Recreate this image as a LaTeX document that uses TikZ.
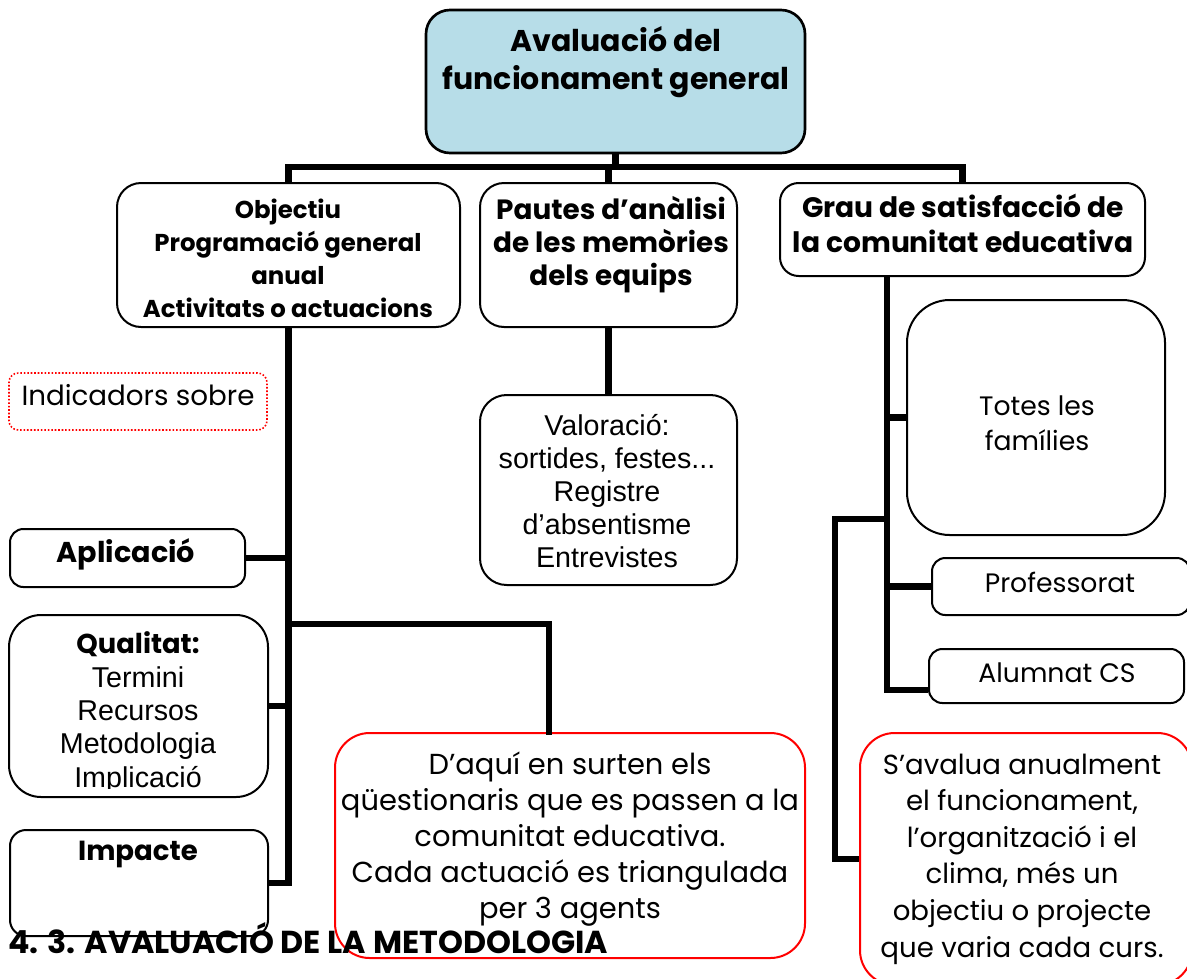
\documentclass[tikz,border=0pt]{standalone}
\usepackage{fontspec}
\setmainfont{Poppins}
\newfontfamily\arialfont{Liberation Sans}
\usetikzlibrary{fit}
\definecolor{lightblue}{HTML}{B7DDE8}
\newcommand{\fs}[2]{\fontsize{#1}{#2}\selectfont}

\begin{document}
\begin{tikzpicture}[x=0.75pt, y=-0.75pt,
        box/.style={draw, line width=1.5pt, inner sep=0pt, rounded corners=10pt},
        redbox/.style={draw=red, line width=1.5pt, inner sep=0pt, rounded corners=26pt},
        conn/.style={line width=4.8pt},
        txt/.style={anchor=base, align=center, inner sep=0pt}]
    \useasboundingbox (0,0) rectangle (1187,978);
    % boxes
    \node [box, fill=lightblue, line width=2pt, rounded corners=18pt, fit={(426,10) (805,153)}] (top) {};
    \node [box, rounded corners=18pt, fit={(117,183) (460,327)}] (obj) {};
    \node [box, rounded corners=18pt, fit={(480,183) (737,327)}] (paut) {};
    \node [box, rounded corners=14pt, fit={(780,183) (1145,276)}] (grau) {};
    \node [box, draw=red, line width=1.2pt, dash pattern=on 1.2pt off 1.4pt, rounded corners=7pt, fit={(9,373) (267,430)}] (ind) {};
    \node [box, fit={(10,529) (245,587)}] (apl) {};
    \node [box, rounded corners=24pt, fit={(9,615) (268,797)}] (qual) {};
    \node [box, rounded corners=12pt, fit={(10,830) (268,936)}] (imp) {};
    \node [box, rounded corners=20pt, fit={(480,395) (737,585)}] (val) {};
    \node [box, rounded corners=32pt, fit={(907,300) (1165,535)}] (tot) {};
    \node [box, fit={(932,558) (1190,615)}] (prof) {};
    \node [box, fit={(929,649) (1184,703)}] (alu) {};
    \node [redbox, fit={(335,733) (805,958)}] (daq) {};
    \node [redbox, fit={(860,733) (1192,985)}] (sav) {};
    % connectors
    \coordinate (bar) at (0,167);
    \draw [conn] (obj.north) -- (obj.north |- bar) -- (grau.north |- bar) -- (grau.north);
    \draw [conn] (top.south) -- (top.south |- bar);
    \draw [conn] (paut.north) -- (paut.north |- bar);
    \draw [conn] (obj.south) |- (imp.east);
    \draw [conn] (apl.east) -- (apl.east -| obj.south);
    \draw [conn] (qual.east) -- (qual.east -| obj.south);
    \coordinate (dq1) at (288,624);
    \coordinate (dq2) at (549,735);
    \draw [conn] (dq1) -| (dq2);
    \draw [conn] (paut.south) -- (val.north);
    \coordinate (gsp) at (887,276);
    \coordinate (alj) at (887,690);
    \draw [conn] (gsp) -- (alj) -- (alj -| alu.west);
    \draw [conn] (tot.west) -- (tot.west -| gsp);
    \draw [conn] (prof.west) -- (prof.west -| gsp);
    \coordinate (sj) at (887,519);
    \coordinate (sk) at (835,519);
    \draw [conn] (sj) -- (sk) |- (sav.west);
    % texts (placed at the baseline of their last line)
    \node [txt, font=\bfseries\fs{22.5}{28.5}] (t-top) at (616,89) {Avaluació del\\funcionament general};
    \node [txt, font=\bfseries\fs{18.3}{24.75}] (t-obj) at (288,317) {Objectiu\\Programació general\\anual\\Activitats o actuacions};
    \node [txt, font=\bfseries\fs{20.9}{24.75}] (t-paut) at (611,285) {Pautes d’anàlisi\\de les memòries\\dels equips};
    \node [txt, font=\bfseries\fs{21.1}{26}] (t-grau) at (963,252) {Grau de satisfacció de\\la comunitat educativa};
    \node [txt, font=\fs{20.8}{24}] (t-ind) at (138,405) {Indicadors sobre};
    \node [txt, font=\bfseries\fs{21.5}{24}] (t-apl) at (126,562) {Aplicació};
    \begin{scope}
        \clip (9,615) rectangle (268,788);
        \node [txt, font=\arialfont\fs{21.5}{25}] (t-qual) at (138,787) {{\rmfamily\bfseries\fs{20.5}{25}Qualitat:}\\Termini\\Recursos\\Metodologia\\Implicació};
    \end{scope}
    \node [txt, font=\bfseries\fs{20.7}{24}] (t-imp) at (138,860) {Impacte};
    \node [txt, font=\arialfont\fs{21.5}{24.75}] (t-val) at (607,567) {Valoració:\\sortides, festes...\\Registre\\d’absentisme\\Entrevistes};
    \node [txt, font=\fs{20}{26.25}] (t-tot) at (1037,450) {Totes les\\famílies};
    \node [txt, font=\fs{20}{24}] (t-prof) at (1060,592) {Professorat};
    \node [txt, font=\fs{20}{24}] (t-alu) at (1057,682) {Alumnat CS};
    \node [txt, font=\fs{21.7}{27}] (t-daq) at (570,918) {D’aquí en surten els\\qüestionaris que es passen a la\\comunitat educativa.\\Cada actuació es triangulada\\per 3 agents};
    \node [txt, font=\fs{20.7}{27.4}] (t-sav) at (1022,957) {S’avalua anualment\\el funcionament,\\l’organització i el\\clima, més un\\objectiu o projecte\\que varia cada curs.};
    \node [anchor=base west, inner sep=0pt, font=\bfseries\fs{23.8}{27}] (head) at (8,953) {4. 3. AVALUACIÓ DE LA METODOLOGIA};
\end{tikzpicture}
\end{document}
